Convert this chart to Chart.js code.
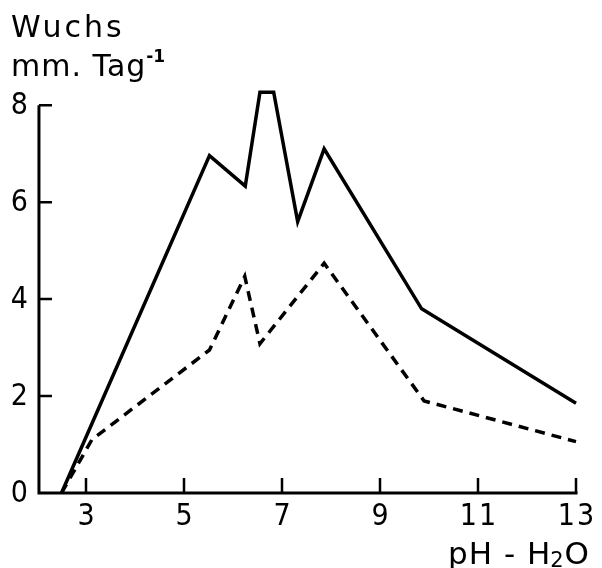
<!DOCTYPE html>
<html><head><meta charset="utf-8">
<script src="https://cdn.jsdelivr.net/npm/chart.js@4/dist/chart.umd.min.js"></script>
<style>html,body{margin:0;padding:0;background:#fff}#wrap{width:602px;height:568px;position:relative}</style>
</head><body><div id="wrap"><canvas id="c" width="602" height="568"></canvas></div>
<script>
const solidX = [2.5, 5.52, 6.25, 6.55, 6.83, 7.32, 7.86, 9.85, 13.0];
const solidY = [0, 6.96, 6.33, 8.27, 8.27, 5.6, 7.1, 3.8, 1.85];
const dashX = [2.5, 3.12, 5.52, 6.24, 6.55, 7.86, 9.9, 13.0];
const dashY = [0, 1.1, 2.95, 4.47, 3.08, 4.74, 1.9, 1.06];
const xTicks = [3, 5, 7, 9, 11, 13];
const yTicks = [0, 2, 4, 6, 8];
const yTitle = ["Wuchs", "mm. Tag"];
const xTitle = "pH - H";

const FONT = '"DejaVu Sans Condensed", "DejaVu Sans", sans-serif';
const FONT2 = '"DejaVu Sans", sans-serif';
const pts = (xs, ys) => xs.map((x, i) => ({x, y: ys[i]}));

const axesPlugin = {
  id: 'axes',
  afterDatasetsDraw(chart) {
    const ctx = chart.ctx, xs = chart.scales.x, ys = chart.scales.y;
    const x0 = xs.getPixelForValue(2.04), x1 = xs.getPixelForValue(13);
    const y0 = ys.getPixelForValue(0), y8 = ys.getPixelForValue(8);
    ctx.save();
    ctx.strokeStyle = '#000'; ctx.lineWidth = 3; ctx.lineCap = 'butt';
    ctx.beginPath();
    ctx.moveTo(x0, y8); ctx.lineTo(x0, y0); ctx.lineTo(x1 + 1.5, y0);
    ctx.stroke();
    ctx.lineWidth = 2.5;
    ctx.beginPath();
    xTicks.forEach(v => { const p = xs.getPixelForValue(v); ctx.moveTo(p, y0); ctx.lineTo(p, y0 - 15); });
    yTicks.filter(v => v > 0).forEach(v => { const p = ys.getPixelForValue(v); ctx.moveTo(x0, p); ctx.lineTo(x0 + 13, p); });
    ctx.stroke();
    ctx.fillStyle = '#000';
    ctx.font = '30px ' + FONT;
    ctx.letterSpacing = '2px';
    ctx.textAlign = 'center'; ctx.textBaseline = 'top';
    xTicks.forEach(v => ctx.fillText(String(v), xs.getPixelForValue(v) + 1, y0 + 9));
    ctx.letterSpacing = '0px';
    ctx.textAlign = 'right'; ctx.textBaseline = 'middle';
    yTicks.forEach(v => ctx.fillText(String(v), x0 - 11, ys.getPixelForValue(v) + 1));
    // titles
    ctx.textAlign = 'left'; ctx.textBaseline = 'alphabetic';
    ctx.font = '30px ' + FONT2;
    ctx.letterSpacing = '3px';
    ctx.fillText(yTitle[0], 11, 37);
    ctx.letterSpacing = '1px';
    ctx.fillText(yTitle[1], 11, 76);
    let w = ctx.measureText(yTitle[1]).width;
    ctx.letterSpacing = '0px';
    ctx.font = 'bold 17px ' + FONT2;
    ctx.fillText('-1', 11 + w, 62);
    // x title
    ctx.font = '31px ' + FONT2;
    ctx.textAlign = 'right';
    const tail = 'O';
    const wTail = ctx.measureText(tail).width;
    ctx.fillText(tail, 589, 564);
    ctx.font = '21px ' + FONT2;
    const wSub = ctx.measureText('2').width;
    ctx.fillText('2', 589 - wTail - 1, 567);
    ctx.font = '31px ' + FONT2;
    ctx.letterSpacing = '1px';
    ctx.fillText(xTitle, 589 - wTail - wSub, 564);
    ctx.restore();
  }
};

new Chart(document.getElementById('c'), {
  type: 'scatter',
  data: {
    datasets: [
      { data: pts(solidX, solidY), showLine: true, borderColor: '#000', borderWidth: 3.5, pointRadius: 0, fill: false, clip: false, borderJoinStyle: 'miter' },
      { data: pts(dashX, dashY), showLine: true, borderColor: '#000', borderWidth: 3.5, borderDash: [10, 7], pointRadius: 0, fill: false, clip: false }
    ]
  },
  options: {
    responsive: false, animation: false,
    layout: { padding: { left: 37, right: 26, top: 81, bottom: 75 } },
    plugins: { legend: { display: false }, tooltip: { enabled: false } },
    scales: {
      x: { type: 'linear', min: 2, max: 13, display: false },
      y: { type: 'linear', min: 0, max: 8.5, display: false }
    }
  },
  plugins: [axesPlugin]
});
</script></body></html>
